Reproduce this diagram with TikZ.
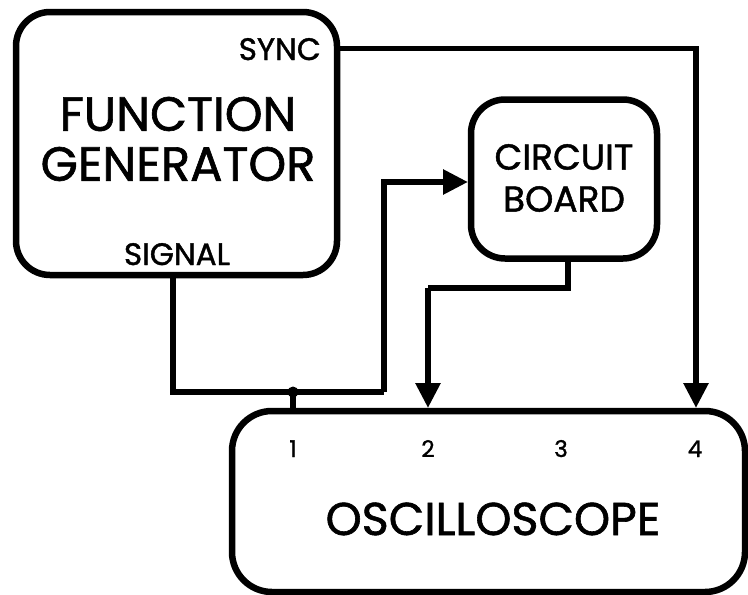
\documentclass[tikz,border=0pt]{standalone}
\usepackage{fontspec}
\setmainfont{Poppins}[FakeBold=1.3]
\usetikzlibrary{arrows.meta}
\begin{document}
\begin{tikzpicture}[x=1pt,y=-1pt,
  box/.style={draw=black,line width=6.5pt,rounded corners=34pt,inner sep=0pt},
  wire/.style={draw=black,line width=5.8pt},
  arr/.style={wire,-{Triangle[length=25pt,width=24pt]}},
  big/.style={font=\fontsize{48}{50}\selectfont,inner sep=0pt,align=center},
  mid/.style={font=\fontsize{36}{42}\selectfont,inner sep=0pt,align=center},
  small/.style={font=\fontsize{31}{32}\selectfont,inner sep=0pt},
  num/.style={font=\fontsize{23}{26}\selectfont,inner sep=0pt}]
\useasboundingbox[fill=white] (0,0) rectangle (748,595);
% boxes
\node[box,minimum width=321pt,minimum height=263pt] (fg) at (176.5,143.5) {};
\node[box,minimum width=186pt,minimum height=159pt] (cb) at (564,179) {};
\node[box,rounded corners=40pt,minimum width=513pt,minimum height=181pt] (osc) at (488.5,501.5) {};
% texts
\node[small,anchor=base east] (synct) at (321,60) {SYNC};
\node[big] (fgt) at (178,139) {FUNCTION\\GENERATOR};
\node[small,anchor=base] (sigt) at (177,265) {SIGNAL};
\node[mid] (cbt) at (564,178) {CIRCUIT\\BOARD};
\node[big,font=\fontsize{46}{48}\selectfont,anchor=base] (osct) at (493,535) {OSCILLOSCOPE};
\node[num,anchor=base] (n1) at (293,457) {1};
\node[num,anchor=base] (n2) at (428,457) {2};
\node[num,anchor=base] (n3) at (561,457) {3};
\node[num,anchor=base] (n4) at (695,457) {4};
% ports
\coordinate (sync) at (337,48.5);
\coordinate (p4) at (696,408);
\coordinate (sig) at (173,276);
\coordinate (b1) at (384,392);
\coordinate (cbin) at (468,182);
\coordinate (jn) at (293,392);
\coordinate (p1) at (293,411);
\coordinate (cbout) at (568,258);
\coordinate (b2) at (428,288);
\coordinate (p2) at (428,408);
% connectors
\draw[arr] (sync) -| (p4);
\draw[wire] (sig) |- (b1);
\draw[arr] (b1) |- (cbin);
\draw[wire] (jn) -- (p1);
\fill (jn) circle (5.5pt);
\draw[wire] (cbout) |- (b2);
\draw[arr] (b2) -- (p2);
\end{tikzpicture}
\end{document}
